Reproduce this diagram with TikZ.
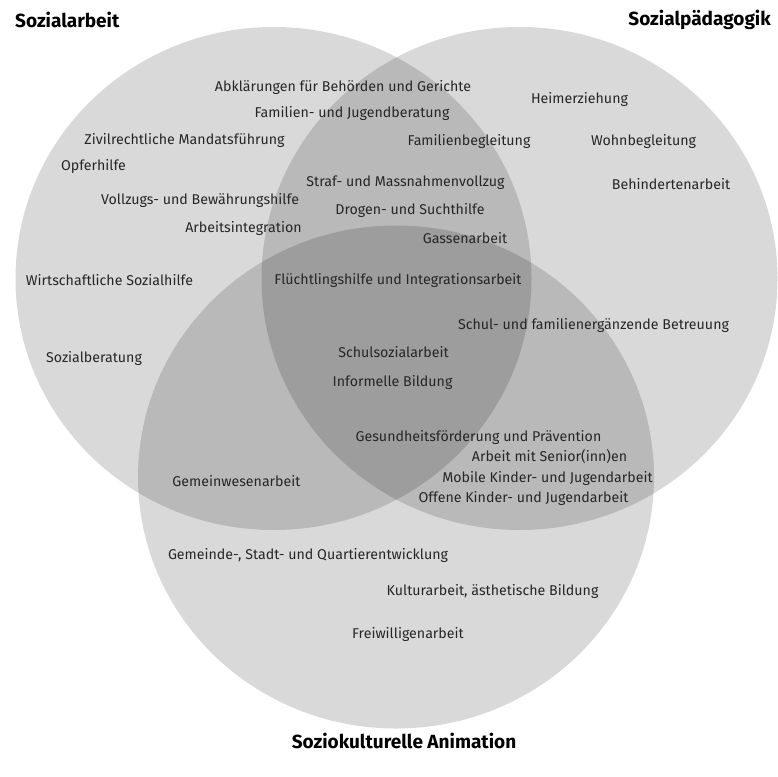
\documentclass[tikz,border=0pt]{standalone}
\usepackage{fontspec}
\setmainfont{Fira Sans}
\usepackage{tikz}

\begin{document}
\begin{tikzpicture}[
  x=1pt, y=-1pt,
  area/.style={fill=black, fill opacity=0.15},
  field/.style={font=\fontsize{14.2}{16}\selectfont, text=black!85, inner sep=0pt},
  title/.style={font=\fontsize{19}{21}\selectfont\bfseries, inner sep=0pt}
]
\useasboundingbox (0,0) rectangle (778,776);

% Circles
\coordinate (arbeit) at (273.5,278.5);
\coordinate (paed) at (519.5,278.5);
\coordinate (anim) at (396,477);
\fill[area] (arbeit) ellipse [x radius=258pt, y radius=251.5pt];
\fill[area] (paed) ellipse [x radius=258pt, y radius=251.5pt];
\fill[area] (anim) ellipse [x radius=258pt, y radius=251.5pt];

% Titles
\node[title, anchor=west] (tarbeit) at (15,20) {Sozialarbeit};
\node[title, anchor=east] (tpaed) at (771,20) {Sozialpädagogik};
\node[title] (tanim) at (404,741) {Soziokulturelle Animation};

% Fields
\node[field] (abkl) at (343,87) {Abklärungen für Behörden und Gerichte};
\node[field] (famjug) at (352,113) {Familien- und Jugendberatung};
\node[field] (heim) at (579.5,99) {Heimerziehung};
\node[field] (zivil) at (184.5,140) {Zivilrechtliche Mandatsführung};
\node[field] (fambeg) at (469,141) {Familienbegleitung};
\node[field] (wohn) at (643.5,141) {Wohnbegleitung};
\node[field] (opfer) at (93.5,166) {Opferhilfe};
\node[field] (straf) at (405.5,183) {Straf- und Massnahmenvollzug};
\node[field] (behind) at (671,184) {Behindertenarbeit};
\node[field] (vollz) at (200,200) {Vollzugs- und Bewährungshilfe};
\node[field] (drogen) at (410,210) {Drogen- und Suchthilfe};
\node[field] (arbint) at (243.5,228) {Arbeitsintegration};
\node[field] (gasse) at (465,238) {Gassenarbeit};
\node[field] (wirt) at (109.5,280) {Wirtschaftliche Sozialhilfe};
\node[field] (flucht) at (398,280) {Flüchtlingshilfe und Integrationsarbeit};
\node[field] (schul) at (593.5,325) {Schul- und familienergänzende Betreuung};
\node[field] (sozber) at (94,358) {Sozialberatung};
\node[field] (schulsoz) at (393.5,352) {Schulsozialarbeit};
\node[field] (inform) at (392.5,382) {Informelle Bildung};
\node[field] (gesund) at (478.5,437) {Gesundheitsförderung und Prävention};
\node[field] (senior) at (549.5,457) {Arbeit mit Senior(inn)en};
\node[field] (mobile) at (547.5,478) {Mobile Kinder- und Jugendarbeit};
\node[field] (gemwes) at (236.5,481) {Gemeinwesenarbeit};
\node[field] (offene) at (523.5,498) {Offene Kinder- und Jugendarbeit};
\node[field] (gemeinde) at (308,555) {Gemeinde-, Stadt- und Quartierentwicklung};
\node[field] (kultur) at (492.5,591) {Kulturarbeit, ästhetische Bildung};
\node[field] (freiw) at (408,634) {Freiwilligenarbeit};

\end{tikzpicture}
\end{document}
